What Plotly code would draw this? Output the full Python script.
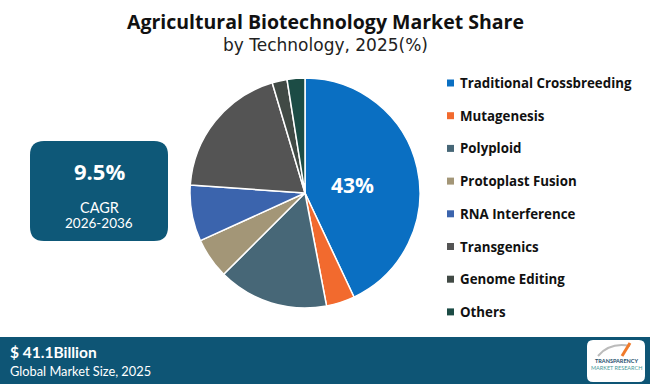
import math
import plotly.graph_objects as go

# ---- data ----
technologies = ["Traditional Crossbreeding", "Mutagenesis", "Polyploid", "Protoplast Fusion",
                "RNA Interference", "Transgenics", "Genome Editing", "Others"]
shares = [43.0, 4.0, 15.5, 5.7, 7.9, 19.3, 2.1, 2.5]
colors = ["#0A6FC2", "#F26A2E", "#476777", "#A39677", "#3B64AD", "#545454", "#414A45", "#1C4C45"]
title_text = "Agricultural Biotechnology Market Share"
subtitle_text = "by Technology, 2025(%)"
cagr_value = "9.5%"
cagr_period = "2026-2036"
market_size = "$ 41.1Billion"
market_label = "Global Market Size, 2025"

W, H = 650, 384
def px(x): return x / W
def py(y): return 1 - y / H

def rrect(x0, y0, x1, y1, r):
    X0, X1 = px(x0), px(x1)
    Y0, Y1 = py(y0), py(y1)
    rx, ry = r / W, r / H
    return (f"M{X0+rx},{Y0} L{X1-rx},{Y0} Q{X1},{Y0} {X1},{Y0-ry} "
            f"L{X1},{Y1+ry} Q{X1},{Y1} {X1-rx},{Y1} L{X0+rx},{Y1} Q{X0},{Y1} {X0},{Y1+ry} "
            f"L{X0},{Y0-ry} Q{X0},{Y0} {X0+rx},{Y0} Z")

def ann(x, y, text, size, family="Lato", color="white", xanchor="center"):
    return dict(x=px(x), y=py(y), xref="paper", yref="paper", text=text, showarrow=False,
                xanchor=xanchor, yanchor="middle", font=dict(family=family, size=size, color=color))

# pie geometry (pixels)
cx, cy, R = 305, 193, 115

fig = go.Figure(go.Pie(
    labels=technologies, values=shares, sort=False, direction="clockwise", rotation=0,
    marker=dict(colors=colors, line=dict(color="white", width=1.5)),
    textinfo="none",
    domain=dict(x=[px(cx - R), px(cx + R)], y=[py(cy + R), py(cy - R)]),
    showlegend=False, hoverinfo="label+percent",
))

shapes = []
annotations = []

# label for the largest slice, placed along its mid-angle
total = sum(shares)
mid = shares[0] / total / 2 * 2 * math.pi
lr = 0.42 * R
annotations.append(ann(cx + lr * math.sin(mid), cy - lr * math.cos(mid) + 3,
                       f"<b>{shares[0]:.0f}%</b>", 21, family="Open Sans"))

# title
annotations.append(ann(325, 22, f"<b>{title_text}</b>", 19.5, family="Open Sans", color="#111111"))
annotations.append(ann(325, 45, subtitle_text, 17, family="DejaVu Sans", color="#222222"))

# legend
leg_y0, leg_dy = 83, 32.7
for i, (lab, col) in enumerate(zip(technologies, colors)):
    yy = leg_y0 + i * leg_dy
    shapes.append(dict(type="rect", xref="paper", yref="paper", x0=px(447), x1=px(454),
                       y0=py(yy + 3.5), y1=py(yy - 3.5), fillcolor=col, line=dict(width=0)))
    annotations.append(ann(458, yy, f"<b>{lab}</b>", 13.3, family="Open Sans",
                           color="#111111", xanchor="left"))

# CAGR box
shapes.append(dict(type="path", xref="paper", yref="paper", path=rrect(30, 141, 168, 241, 14),
                   fillcolor="#0E5878", line=dict(width=0)))
annotations.append(ann(99, 171, f"<b>{cagr_value}</b>", 22, family="Open Sans"))
annotations.append(ann(99, 207, "CAGR", 14.5))
annotations.append(ann(99, 223, cagr_period, 13.5))

# bottom banner
shapes.append(dict(type="rect", xref="paper", yref="paper", x0=0, x1=1, y0=0, y1=py(337),
                   fillcolor="#0E5575", line=dict(width=0)))
annotations.append(ann(8, 352, f"<b>{market_size}</b>", 15.5, xanchor="left"))
annotations.append(ann(8, 371, market_label, 12.8, xanchor="left"))

# logo
shapes.append(dict(type="path", xref="paper", yref="paper", path=rrect(587, 340, 645, 382, 6),
                   fillcolor="white", line=dict(width=0)))
shapes.append(dict(type="path", xref="paper", yref="paper",
                   path=f"M{px(598)},{py(356)} Q{px(610)},{py(342)} {px(630)},{py(346)}",
                   line=dict(color="#BBBBBB", width=2)))
shapes.append(dict(type="path", xref="paper", yref="paper",
                   path=f"M{px(622)},{py(356)} L{px(630)},{py(343)}",
                   line=dict(color="#F07A2A", width=3)))
annotations.append(ann(616, 361, "<b>TRANSPARENCY</b>", 5.5, color="#1D4E6B"))
annotations.append(ann(616, 368, "MARKET RESEARCH", 5.5, color="#4A9A9A"))

fig.update_layout(width=W, height=H, margin=dict(l=0, r=0, t=0, b=0),
                  paper_bgcolor="white", plot_bgcolor="white",
                  shapes=shapes, annotations=annotations)

fig.write_html("out.html", config={"displayModeBar": False},
               post_script="document.body.style.margin='0px';")
